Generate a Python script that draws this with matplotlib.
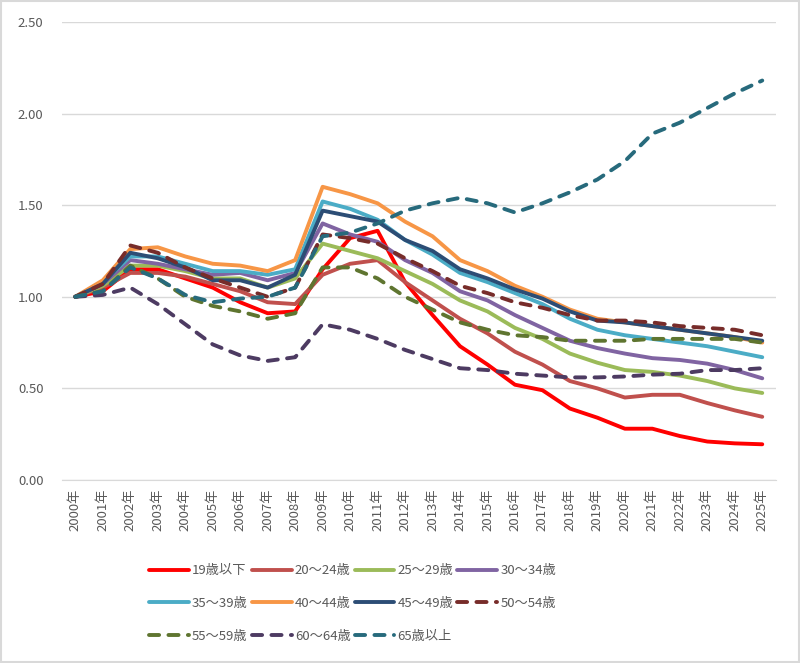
import matplotlib
matplotlib.use("Agg")
import matplotlib.pyplot as plt
from matplotlib.patches import Rectangle

plt.rcParams['font.family'] = ['Noto Sans CJK JP', 'DejaVu Sans']

# data (index, 2000 = 1.00)
years = [f"{y}年" for y in range(2000, 2026)]

age_19 = [1.00, 1.03, 1.15, 1.15, 1.10, 1.05, 0.97, 0.91, 0.92, 1.15, 1.32, 1.36, 1.08,
          0.90, 0.73, 0.63, 0.52, 0.49, 0.39, 0.34, 0.28, 0.28, 0.24, 0.21, 0.20, 0.195]
age_20 = [1.00, 1.05, 1.13, 1.13, 1.11, 1.07, 1.03, 0.97, 0.96, 1.12, 1.18, 1.20, 1.08,
          0.98, 0.88, 0.80, 0.70, 0.63, 0.54, 0.50, 0.45, 0.465, 0.465, 0.42, 0.38, 0.345]
age_25 = [1.00, 1.06, 1.17, 1.17, 1.14, 1.10, 1.10, 1.05, 1.10, 1.29, 1.25, 1.21, 1.14,
          1.07, 0.98, 0.92, 0.83, 0.77, 0.69, 0.64, 0.60, 0.59, 0.57, 0.54, 0.50, 0.475]
age_30 = [1.00, 1.07, 1.20, 1.18, 1.15, 1.12, 1.13, 1.09, 1.13, 1.40, 1.34, 1.30, 1.20,
          1.13, 1.03, 0.98, 0.90, 0.83, 0.76, 0.72, 0.69, 0.665, 0.655, 0.635, 0.60, 0.555]
age_35 = [1.00, 1.08, 1.22, 1.22, 1.18, 1.14, 1.14, 1.12, 1.15, 1.52, 1.48, 1.42, 1.31,
          1.23, 1.13, 1.08, 1.02, 0.96, 0.88, 0.82, 0.79, 0.77, 0.75, 0.73, 0.70, 0.67]
age_40 = [1.00, 1.09, 1.26, 1.27, 1.22, 1.18, 1.17, 1.14, 1.20, 1.60, 1.56, 1.51, 1.41,
          1.33, 1.20, 1.14, 1.06, 1.00, 0.93, 0.88, 0.86, 0.84, 0.82, 0.80, 0.78, 0.75]
age_45 = [1.00, 1.07, 1.24, 1.21, 1.16, 1.09, 1.09, 1.05, 1.12, 1.47, 1.44, 1.41, 1.31,
          1.25, 1.15, 1.10, 1.04, 0.99, 0.92, 0.87, 0.86, 0.84, 0.82, 0.80, 0.78, 0.76]
age_50 = [1.00, 1.07, 1.28, 1.24, 1.16, 1.10, 1.05, 1.00, 1.05, 1.34, 1.32, 1.29, 1.21,
          1.14, 1.06, 1.02, 0.97, 0.94, 0.90, 0.87, 0.87, 0.86, 0.84, 0.83, 0.82, 0.79]
age_55 = [1.00, 1.03, 1.17, 1.10, 1.00, 0.95, 0.92, 0.88, 0.91, 1.16, 1.16, 1.10, 1.00,
          0.93, 0.86, 0.82, 0.79, 0.78, 0.76, 0.76, 0.76, 0.77, 0.77, 0.77, 0.77, 0.75]
age_60 = [1.00, 1.01, 1.05, 0.96, 0.85, 0.74, 0.68, 0.65, 0.67, 0.85, 0.82, 0.77, 0.71,
          0.66, 0.61, 0.60, 0.58, 0.57, 0.56, 0.56, 0.565, 0.575, 0.58, 0.60, 0.60, 0.61]
age_65 = [1.00, 1.03, 1.16, 1.10, 1.01, 0.97, 0.99, 1.00, 1.05, 1.33, 1.35, 1.40, 1.47,
          1.51, 1.54, 1.51, 1.46, 1.51, 1.57, 1.64, 1.74, 1.89, 1.95, 2.03, 2.11, 2.18]

labels = ["19歳以下", "20〜24歳", "25〜29歳", "30〜34歳", "35〜39歳", "40〜44歳",
          "45〜49歳", "50〜54歳", "55〜59歳", "60〜64歳", "65歳以上"]
series = [age_19, age_20, age_25, age_30, age_35, age_40,
          age_45, age_50, age_55, age_60, age_65]
colors = ["#FF0000", "#C0504D", "#9BBB59", "#8064A2", "#4BACC6", "#F79646",
          "#2C4D75", "#772C2A", "#5F7530", "#4D3B62", "#276A7C"]
dashed = [False] * 7 + [True] * 4

fig = plt.figure(figsize=(8.0, 6.63), dpi=100)
ax = fig.add_axes([0.077, 0.276, 0.893, 0.691])

x = list(range(len(years)))
for vals, lab, col, dsh in zip(series, labels, colors, dashed):
    if dsh:
        ax.plot(x, vals, color=col, lw=2.8, label=lab,
                linestyle=(0, (2.6, 2.4)), dash_capstyle='round')
    else:
        ax.plot(x, vals, color=col, lw=2.8, label=lab, solid_capstyle='round')

ax.set_xlim(-0.5, len(years) - 0.5)
ax.set_ylim(0, 2.5)
ax.set_yticks([0, 0.5, 1.0, 1.5, 2.0, 2.5])
ax.set_yticklabels([f"{v:.2f}" for v in [0, 0.5, 1.0, 1.5, 2.0, 2.5]])
ax.set_xticks(x)
ax.set_xticklabels(years, rotation=90)
ax.tick_params(axis='both', length=0, labelsize=9.5, colors='#595959')
ax.tick_params(axis='y', pad=13)
ax.tick_params(axis='x', pad=6)
ax.grid(axis='y', color='#D9D9D9', lw=1)
ax.set_axisbelow(True)
for s in ['top', 'right', 'left']:
    ax.spines[s].set_visible(False)
ax.spines['bottom'].set_color('#D9D9D9')

# legend fills row by row, like the original
handles, labs = ax.get_legend_handles_labels()
order = [0, 4, 8, 1, 5, 9, 2, 6, 10, 3, 7]
ax.legend([handles[i] for i in order], [labs[i] for i in order],
          loc='upper left', bbox_to_anchor=(0.106, -0.158), ncol=4,
          frameon=False, fontsize=9.5, handlelength=3.0, handletextpad=0.25,
          columnspacing=0.3, labelspacing=1.5, labelcolor='#595959')

fig.patches.append(Rectangle((0.001, 0.001), 0.998, 0.998, transform=fig.transFigure,
                             fill=False, edgecolor='#D9D9D9', lw=1.5))

fig.savefig("out.png", dpi=100)
